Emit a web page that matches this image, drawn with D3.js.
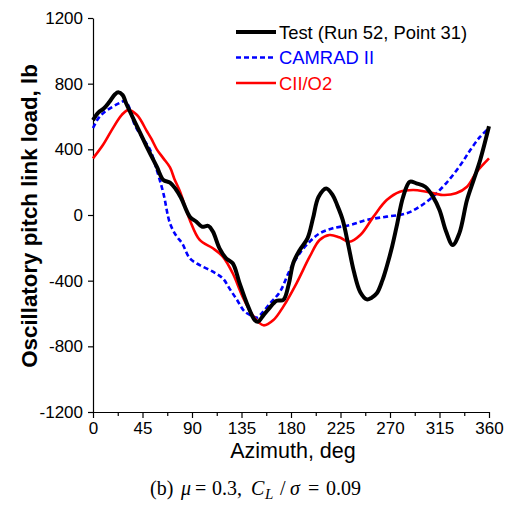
<!DOCTYPE html>
<html><head><meta charset="utf-8">
<script src="https://cdn.jsdelivr.net/npm/d3@7"></script>
<style>body{margin:0;background:#fff}</style>
</head><body>
<svg id="c" width="510" height="506"></svg>
<script>
const xTicks = [0,45,90,135,180,225,270,315,360];
const yTicks = [-1200,-800,-400,0,400,800,1200];
const seriesNames = ["Test (Run 52, Point 31)","CAMRAD II","CII/O2"];

const testAz = [0,5,10,15,20,23,27,30,40,45,50,58,64,70,75,80,88,94,99,105,109,115,121,127,133,140,147,150,155,160,167,173,178,182,188,195,200,205,212,218,222,227,232,237,243,249,253,258,263,267,272,276,282,288,294,302,309,315,321,327,333,340,346,352,360];
const testLoad = [578,625,650,690,735,747,730,682,540,470,400,294,213,197,160,105,-10,-41,-71,-67,-101,-203,-264,-294,-410,-540,-640,-650,-610,-570,-522,-518,-420,-294,-213,-142,-20,110,162,120,60,-30,-180,-340,-470,-514,-505,-477,-400,-315,-190,-71,112,203,193,172,112,30,-101,-183,-112,91,213,335,540];

const camAz = [0,5,10,18,25,29,32,38,45,52,58,64,70,76,81,88,97,109,118,124,131,138,146,149,152,161,170,179,188,197,206,218,234,249,267,285,297,309,321,334,343,352,360];
const camLoad = [530,590,625,660,685,695,670,548,470,396,274,132,-51,-130,-172,-264,-305,-345,-386,-447,-518,-589,-619,-625,-609,-538,-467,-335,-233,-163,-112,-81,-61,-30,-10,10,51,112,193,304,396,477,530];

const ciiAz = [0,9,18,26,32,40,49,53,58,64,70,74,79,88,97,109,118,127,136,146,155,164,173,185,197,206,215,224,233,243,255,267,279,291,303,318,330,340,349,360];
const ciiLoad = [345,426,528,609,639,609,510,465,400,345,290,220,145,-30,-152,-203,-254,-355,-497,-619,-672,-640,-558,-416,-254,-152,-122,-136,-163,-122,-10,91,142,152,142,122,132,172,264,345];

const svg = d3.select("#c");
const x = d3.scaleLinear().domain([0,360]).range([93,489]);
const y = d3.scaleLinear().domain([-1200,1200]).range([412,18]);
const font = "Liberation Sans, Arial, sans-serif";
const fmt = d => String(d);

svg.append("g").attr("transform","translate(0,412)")
  .call(d3.axisBottom(x).tickValues(xTicks).tickFormat(fmt).tickSize(6).tickSizeOuter(0).tickPadding(4));
svg.append("g").attr("transform","translate(0,412)")
  .call(d3.axisBottom(x).tickValues(d3.range(22.5,360,45)).tickSize(4).tickFormat("").tickSizeOuter(0))
  .select(".domain").remove();
svg.append("g").attr("transform","translate(93,0)")
  .call(d3.axisLeft(y).tickValues(yTicks).tickFormat(fmt).tickSize(5).tickSizeOuter(0).tickPadding(5));
svg.selectAll(".tick text").attr("font-family",font).attr("font-size",17).attr("fill","#000");
svg.selectAll(".domain,.tick line").attr("stroke","#000").attr("stroke-width",1.2);

svg.append("clipPath").attr("id","cp").append("rect").attr("x",90).attr("y",10).attr("width",405).attr("height",402);

const line = d3.line().curve(d3.curveCatmullRom.alpha(0.5)).x(d=>x(d[0])).y(d=>y(d[1]));
const g = svg.append("g").attr("clip-path","url(#cp)");
g.append("path").datum(d3.zip(camAz,camLoad)).attr("d",line).attr("fill","none")
  .attr("stroke","#0000ff").attr("stroke-width",2.6).attr("stroke-dasharray","5,3");
g.append("path").datum(d3.zip(ciiAz,ciiLoad)).attr("d",line).attr("fill","none")
  .attr("stroke","#ff0000").attr("stroke-width",2.6);
g.append("path").datum(d3.zip(testAz,testLoad)).attr("d",line).attr("fill","none")
  .attr("stroke","#000").attr("stroke-width",4);

const leg = [
  {c:"#000",w:4,d:null,t:seriesNames[0]},
  {c:"#0000ff",w:2.6,d:"5,3",t:seriesNames[1]},
  {c:"#ff0000",w:2.6,d:null,t:seriesNames[2]}];
leg.forEach((l,i)=>{
  const yy = 32 + i*25.5;
  svg.append("line").attr("x1",236).attr("x2",276).attr("y1",yy).attr("y2",yy)
    .attr("stroke",l.c).attr("stroke-width",l.w).attr("stroke-dasharray",l.d);
  svg.append("text").attr("x",279).attr("y",yy+6.5).attr("font-family",font).attr("font-size",18.4)
    .attr("fill",l.c).text(l.t);
});

svg.append("text").attr("x",293).attr("y",458).attr("text-anchor","middle")
  .attr("font-family",font).attr("font-size",21.5).text("Azimuth, deg");
svg.append("text").attr("transform","translate(37,216) rotate(-90)").attr("text-anchor","middle")
  .attr("font-family",font).attr("font-size",22.3).attr("font-weight","bold")
  .text("Oscillatory pitch link load, lb");

const cap = svg.append("text").attr("y",495)
  .attr("font-family","Liberation Serif, Times New Roman, serif").attr("font-size",20);
cap.append("tspan").attr("x",150).text("(b)");
cap.append("tspan").attr("x",181).attr("font-style","italic").text("μ");
cap.append("tspan").attr("x",195).text("=");
cap.append("tspan").attr("x",212).text("0.3,");
cap.append("tspan").attr("x",251).attr("font-style","italic").text("C");
cap.append("tspan").attr("x",265).attr("font-style","italic").attr("font-size",15).attr("dy",4).text("L");
cap.append("tspan").attr("x",280).attr("dy",-4).text("/");
cap.append("tspan").attr("x",290).attr("font-style","italic").text("σ");
cap.append("tspan").attr("x",308).text("=");
cap.append("tspan").attr("x",326).text("0.09");
</script>
</body></html>
